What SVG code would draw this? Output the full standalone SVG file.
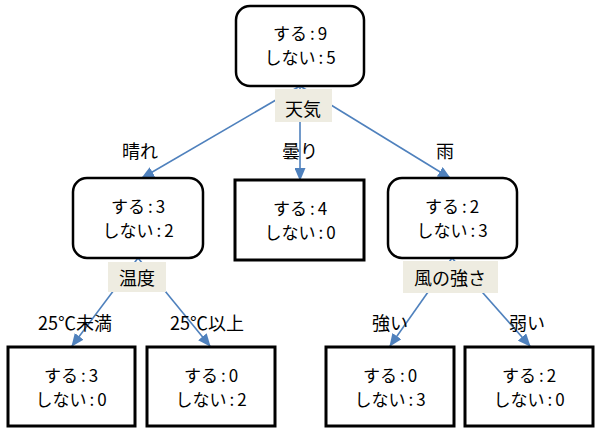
<svg xmlns="http://www.w3.org/2000/svg" width="600" height="435" viewBox="0 0 600 435">
<defs>
<style>
.node{fill:#fff;stroke:#000;stroke-width:2.5}
.leaf{fill:#fff;stroke:#000;stroke-width:3}
.edge{stroke:#4f81bd;stroke-width:1.6;fill:none}
.lblbox{fill:#eeece1;stroke:none}
text{font-family:"Noto Sans CJK JP","Noto Sans",sans-serif;font-size:17px;fill:#000;text-anchor:middle}
.lbl{font-size:18px}
</style>
<marker id="arr" markerUnits="userSpaceOnUse" markerWidth="13" markerHeight="11" refX="12" refY="5.5" orient="auto">
<path d="M0,0 L13,5.5 L0,11 Z" fill="#4f81bd"/>
</marker>
</defs>
<rect width="600" height="435" fill="#fff"/>
<g id="connectors">
<line class="edge" x1="300" y1="86" x2="142" y2="178" marker-end="url(#arr)"/>
<line class="edge" x1="300" y1="86" x2="300" y2="180" marker-end="url(#arr)"/>
<line class="edge" x1="300" y1="86" x2="450" y2="178" marker-end="url(#arr)"/>
<line class="edge" x1="138" y1="258" x2="72" y2="346" marker-end="url(#arr)"/>
<line class="edge" x1="138" y1="258" x2="210" y2="346" marker-end="url(#arr)"/>
<line class="edge" x1="452" y1="258" x2="390" y2="346" marker-end="url(#arr)"/>
<line class="edge" x1="452" y1="258" x2="530" y2="346" marker-end="url(#arr)"/>
</g>
<g id="root">
<rect class="node" x="236" y="6" width="128" height="80" rx="14"/>
<text x="300" y="40">する<tspan dx="3">:</tspan><tspan dx="3">9</tspan></text>
<text x="300" y="64">しない<tspan dx="3">:</tspan><tspan dx="3">5</tspan></text>
</g>
<g id="label-tenki">
<rect class="lblbox" x="275" y="89" width="57" height="33"/>
<text class="lbl" x="303" y="116">天気</text>
</g>
<g id="sunny">
<rect class="node" x="73" y="178" width="130" height="80" rx="14"/>
<text x="138" y="213">する<tspan dx="3">:</tspan><tspan dx="3">3</tspan></text>
<text x="138" y="237">しない<tspan dx="3">:</tspan><tspan dx="3">2</tspan></text>
</g>
<g id="cloudy">
<rect class="leaf" x="235" y="180" width="129" height="80"/>
<text x="300" y="215">する<tspan dx="3">:</tspan><tspan dx="3">4</tspan></text>
<text x="300" y="239">しない<tspan dx="3">:</tspan><tspan dx="3">0</tspan></text>
</g>
<g id="rain">
<rect class="node" x="388" y="178" width="129" height="80" rx="14"/>
<text x="452" y="213">する<tspan dx="3">:</tspan><tspan dx="3">2</tspan></text>
<text x="452" y="237">しない<tspan dx="3">:</tspan><tspan dx="3">3</tspan></text>
</g>
<g id="label-hare"><text class="lbl" x="140" y="158">晴れ</text></g>
<g id="label-kumori"><text class="lbl" x="300" y="158">曇り</text></g>
<g id="label-ame"><text class="lbl" x="445" y="158">雨</text></g>
<g id="label-ondo">
<rect class="lblbox" x="108" y="262" width="58" height="30"/>
<text class="lbl" x="137" y="285">温度</text>
</g>
<g id="label-kaze">
<rect class="lblbox" x="403" y="261" width="95" height="32"/>
<text class="lbl" x="450" y="285">風の強さ</text>
</g>
<g id="label-under"><text class="lbl" x="75" y="330">25℃未満</text></g>
<g id="label-over"><text class="lbl" x="207" y="330">25℃以上</text></g>
<g id="label-strong"><text class="lbl" x="390" y="330">強い</text></g>
<g id="label-weak"><text class="lbl" x="527" y="330">弱い</text></g>
<g id="leaf1">
<rect class="leaf" x="8" y="347" width="127" height="79"/>
<text x="71" y="382">する<tspan dx="3">:</tspan><tspan dx="3">3</tspan></text>
<text x="71" y="406">しない<tspan dx="3">:</tspan><tspan dx="3">0</tspan></text>
</g>
<g id="leaf2">
<rect class="leaf" x="147" y="347" width="128" height="79"/>
<text x="211" y="382">する<tspan dx="3">:</tspan><tspan dx="3">0</tspan></text>
<text x="211" y="406">しない<tspan dx="3">:</tspan><tspan dx="3">2</tspan></text>
</g>
<g id="leaf3">
<rect class="leaf" x="326" y="347" width="128" height="79"/>
<text x="390" y="382">する<tspan dx="3">:</tspan><tspan dx="3">0</tspan></text>
<text x="390" y="406">しない<tspan dx="3">:</tspan><tspan dx="3">3</tspan></text>
</g>
<g id="leaf4">
<rect class="leaf" x="465" y="347" width="128" height="79"/>
<text x="529" y="382">する<tspan dx="3">:</tspan><tspan dx="3">2</tspan></text>
<text x="529" y="406">しない<tspan dx="3">:</tspan><tspan dx="3">0</tspan></text>
</g>
</svg>
